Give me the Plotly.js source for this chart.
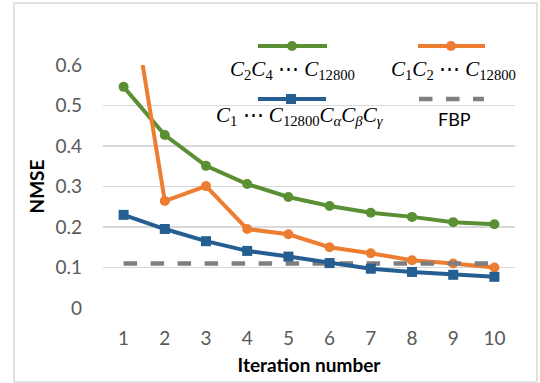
<!DOCTYPE html>
<html><head><meta charset="utf-8">
<script src="https://cdn.plot.ly/plotly-3.0.1.min.js"></script>
<style>html,body{margin:0;padding:0;background:#fff}#c{width:540px;height:383px}</style>
</head><body><div id="c"></div>
<script>
const iterations = ['1','2','3','4','5','6','7','8','9','10'];
const seriesC2C4 = [0.546,0.427,0.351,0.306,0.274,0.252,0.235,0.225,0.212,0.207];
const seriesC1C2 = [0.89,0.264,0.301,0.195,0.182,0.150,0.135,0.118,0.110,0.100];
const seriesC1Cabg = [0.230,0.195,0.165,0.141,0.127,0.111,0.097,0.089,0.082,0.077];
const seriesFBP = [0.11,0.11,0.11,0.11,0.11,0.11,0.11,0.11,0.11,0.11];
const yTicks = [0,0.1,0.2,0.3,0.4,0.5,0.6];
const yTickText = ['0','0.1','0.2','0.3','0.4','0.5','0.6'];
const names = ['<i>C</i><sub>2</sub><i>C</i><sub>4</sub> ⋯ <i>C</i><sub>12800</sub>',
               '<i>C</i><sub>1</sub><i>C</i><sub>2</sub> ⋯ <i>C</i><sub>12800</sub>',
               '<i>C</i><sub>1</sub> ⋯ <i>C</i><sub>12800</sub><i>C</i><sub><i>α</i></sub><i>C</i><sub><i>β</i></sub><i>C</i><sub><i>γ</i></sub>',
               'FBP'];
const GREEN='#5B8F33', ORANGE='#ED7D31', BLUE='#255E91', GRAY='#7F7F7F';

const traces = [
  {x:iterations,y:seriesC2C4,mode:'lines+markers',line:{color:GREEN,width:4},marker:{symbol:'circle',size:10,color:GREEN}},
  {x:iterations,y:seriesC1C2,mode:'lines+markers',line:{color:ORANGE,width:4},marker:{symbol:'circle',size:10,color:ORANGE}},
  {x:iterations,y:seriesFBP,mode:'lines',line:{color:GRAY,width:4.5,dash:'dash'}},
  {x:iterations,y:seriesC1Cabg,mode:'lines+markers',line:{color:BLUE,width:4},marker:{symbol:'square',size:10,color:BLUE}}
];

// legend drawn in paper coordinates
const W=412,H=243,L=103,T=65;
const px=v=>(v-L)/W, py=v=>(T+H-v)/H;
const shapes=[
  {type:'rect',xref:'paper',yref:'paper',x0:px(14),x1:px(537),y0:py(382),y1:py(3),line:{color:'#D9D9D9',width:1.5},layer:'below'},
  {type:'line',xref:'paper',yref:'paper',x0:px(258),x1:px(327),y0:py(46),y1:py(46),line:{color:GREEN,width:4}},
  {type:'circle',xref:'paper',yref:'paper',xsizemode:'pixel',ysizemode:'pixel',xanchor:px(292),yanchor:py(46),x0:-5,x1:5,y0:-5,y1:5,fillcolor:GREEN,line:{width:0}},
  {type:'line',xref:'paper',yref:'paper',x0:px(418),x1:px(485),y0:py(46),y1:py(46),line:{color:ORANGE,width:4}},
  {type:'circle',xref:'paper',yref:'paper',xsizemode:'pixel',ysizemode:'pixel',xanchor:px(451),yanchor:py(46),x0:-5,x1:5,y0:-5,y1:5,fillcolor:ORANGE,line:{width:0}},
  {type:'line',xref:'paper',yref:'paper',x0:px(258),x1:px(326),y0:py(99),y1:py(99),line:{color:BLUE,width:4}},
  {type:'rect',xref:'paper',yref:'paper',xsizemode:'pixel',ysizemode:'pixel',xanchor:px(291),yanchor:py(99),x0:-5,x1:5,y0:-5,y1:5,fillcolor:BLUE,line:{width:0}},
  {type:'line',xref:'paper',yref:'paper',x0:px(419),x1:px(484),y0:py(99),y1:py(99),line:{color:GRAY,width:4.5,dash:'dash'}}
];
const lf={family:'Liberation Serif',size:21,color:'#000'};
const ann=(x,y,t,f)=>({xref:'paper',yref:'paper',x:px(x),y:py(y),xanchor:'center',yanchor:'middle',text:t,showarrow:false,font:f});
const annotations=[
  ann(292,70,names[0],lf),
  ann(453,70,names[1],lf),
  ann(300,116,names[2],lf),
  ann(454,119,names[3],{family:'Lato',size:18,color:'#000'})
];

const layout={
  width:540,height:383,margin:{l:L,r:540-L-W,t:T,b:383-T-H},
  paper_bgcolor:'#fff',plot_bgcolor:'#fff',showlegend:false,
  font:{family:'Lato',color:'#595959',size:19},
  xaxis:{type:'category',range:[-0.5,9.5],showgrid:false,zeroline:false,showline:false,
    ticks:'',ticklabelstandoff:17,tickfont:{size:19,color:'#595959'},
    title:{text:'<b>Iteration number</b>',font:{size:19,color:'#000'},standoff:10}},
  yaxis:{range:[0,0.6],tickvals:yTicks,ticktext:yTickText,showgrid:true,gridcolor:'#D9D9D9',gridwidth:1.3,
    zeroline:false,showline:false,ticks:'',ticklabelstandoff:20,tickfont:{size:19,color:'#595959'},
    title:{text:'<b>NMSE</b>',font:{size:19,color:'#000'},standoff:5}},
  shapes:shapes,annotations:annotations
};
Plotly.newPlot('c',traces,layout,{displayModeBar:false,staticPlot:true});
</script></body></html>
